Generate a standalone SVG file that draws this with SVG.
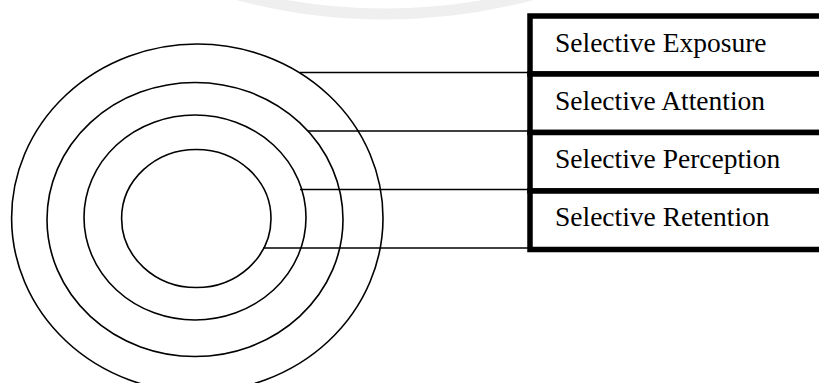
<svg xmlns="http://www.w3.org/2000/svg" width="819" height="383" viewBox="0 0 819 383">
  <style>
    .ring { fill: none; stroke: #000; stroke-width: 1.6; }
    .conn { stroke: #000; stroke-width: 1.6; }
    .cell { fill: #fff; stroke: #000; stroke-width: 5.5; }
    .label { font-family: "Liberation Serif", "Times New Roman", serif; font-size: 27.5px; fill: #000; }
  </style>
  <rect width="819" height="383" fill="#fff"/>

  <!-- faint background arc -->
  <circle cx="385" cy="-556" r="570" fill="none" stroke="#efefef" stroke-width="11"/>

  <!-- concentric rings -->
  <g id="ring-exposure"><ellipse class="ring" cx="197.3" cy="218" rx="185.7" ry="174"/></g>
  <g id="ring-attention"><ellipse class="ring" cx="195" cy="219.5" rx="148" ry="137"/></g>
  <g id="ring-perception"><ellipse class="ring" cx="195" cy="217.5" rx="111" ry="102.5"/></g>
  <g id="ring-retention"><ellipse class="ring" cx="196.3" cy="218.5" rx="74.7" ry="69"/></g>

  <!-- leader lines from rings to the table -->
  <g id="connectors">
    <line class="conn" x1="300" y1="72.5" x2="528" y2="72.5"/>
    <line class="conn" x1="308" y1="131" x2="528" y2="131"/>
    <line class="conn" x1="300" y1="189.5" x2="528" y2="189.5"/>
    <line class="conn" x1="263" y1="248" x2="528" y2="248"/>
  </g>

  <!-- table of stages -->
  <g id="cell-exposure">
    <rect class="cell" x="530" y="16" width="320" height="58"/>
    <text class="label" x="555" y="52">Selective Exposure</text>
  </g>
  <g id="cell-attention">
    <rect class="cell" x="530" y="74" width="320" height="58.5"/>
    <text class="label" x="555" y="110">Selective Attention</text>
  </g>
  <g id="cell-perception">
    <rect class="cell" x="530" y="132.5" width="320" height="58.5"/>
    <text class="label" x="555" y="168">Selective Perception</text>
  </g>
  <g id="cell-retention">
    <rect class="cell" x="530" y="191" width="320" height="58.5"/>
    <text class="label" x="555" y="226">Selective Retention</text>
  </g>
</svg>
